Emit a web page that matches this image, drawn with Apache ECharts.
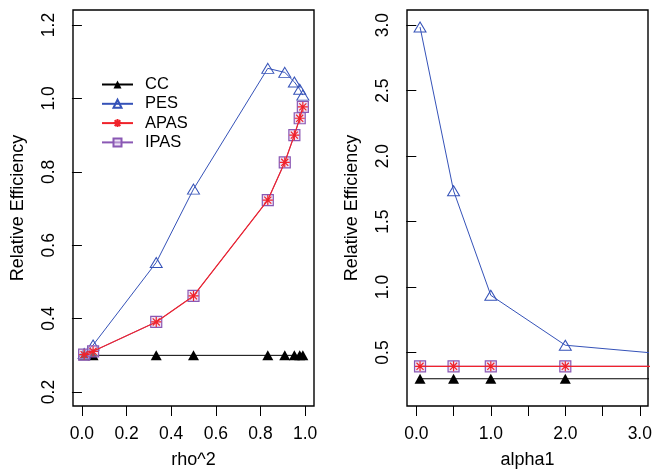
<!DOCTYPE html>
<html><head><meta charset="utf-8">
<script src="https://cdn.jsdelivr.net/npm/echarts@6/dist/echarts.min.js"></script>
<style>html,body{margin:0;padding:0;background:#fff}#c{width:653px;height:469px}</style>
</head><body><div id="c"></div>
<script>
// Left panel
const rho2 = [0.01, 0.05, 0.333, 0.5, 0.833, 0.909, 0.952, 0.976, 0.990];
const ccLeft   = [0.30, 0.30, 0.30, 0.30, 0.30, 0.30, 0.30, 0.30, 0.30];
const pesLeft  = [0.305, 0.328, 0.553, 0.753, 1.082, 1.071, 1.045, 1.025, 1.009];
const apasLeft = [0.302, 0.311, 0.391, 0.462, 0.723, 0.826, 0.900, 0.946, 0.977];
const ipasLeft = [0.302, 0.311, 0.391, 0.462, 0.723, 0.826, 0.900, 0.946, 0.977];
// Right panel
const alpha1 = [0.05, 0.5, 1.0, 2.0, 4.0];
const ccRight   = [0.30, 0.30, 0.30, 0.30, 0.30];
const pesRight  = [2.985, 1.735, 0.937, 0.556, 0.455];
const apasRight = [0.395, 0.395, 0.395, 0.395, 0.395];
const ipasRight = [0.395, 0.395, 0.395, 0.395, 0.395];
// Tick labels
const xTicksLeft = [0, 0.2, 0.4, 0.6, 0.8, 1.0];
const yTicksLeft = [0.2, 0.4, 0.6, 0.8, 1.0, 1.2];
const xTickMarksRight = [0, 0.5, 1.0, 1.5, 2.0, 2.5, 3.0];
const xTickLabelsRight = [0, 1.0, 2.0, 3.0];
const yTicksRight = [0.5, 1.0, 1.5, 2.0, 2.5, 3.0];
const seriesNames = ['CC', 'PES', 'APAS', 'IPAS'];

const FONT = 'Liberation Sans, Arial, Helvetica, sans-serif';
const BLUE = '#3552b8', RED = '#f0232b', PURPLE = '#8a58b4', BLACK = '#000';
const ASTER = 'path://M0,-10L0,10M-10,0L10,0M-7.07,-7.07L7.07,7.07M-7.07,7.07L7.07,-7.07';

function zip(xs, ys) { return xs.map((x, i) => [x, ys[i]]); }

function mkSeries(idx, cc, pes, apas, ipas, xs) {
  return [
    { name: 'CC', type: 'line', xAxisIndex: idx, yAxisIndex: idx, data: zip(xs, cc),
      symbol: 'triangle', symbolSize: [11, 10], clip: true,
      lineStyle: { color: BLACK, width: 1 }, itemStyle: { color: BLACK }, z: 2 },
    { name: 'PES', type: 'line', xAxisIndex: idx, yAxisIndex: idx, data: zip(xs, pes),
      symbol: 'triangle', symbolSize: [12, 10], clip: true,
      lineStyle: { color: BLUE, width: 1 }, itemStyle: { color: 'rgba(255,255,255,0)', borderColor: BLUE, borderWidth: 1 }, z: 3 },
    { name: 'IPAS', type: 'line', xAxisIndex: idx, yAxisIndex: idx, data: zip(xs, ipas),
      symbol: 'rect', symbolSize: 11, clip: true,
      lineStyle: { color: PURPLE, width: 1 }, itemStyle: { color: 'rgba(220,200,235,0.5)', borderColor: PURPLE, borderWidth: 1.2 }, z: 4 },
    { name: 'APAS', type: 'line', xAxisIndex: idx, yAxisIndex: idx, data: zip(xs, apas),
      symbol: ASTER, symbolSize: 10, clip: true,
      lineStyle: { color: RED, width: 1.2 }, itemStyle: { color: 'none', borderColor: RED, borderWidth: 1.2 }, z: 5 }
  ];
}

function xAx(idx, min, max, tickVals, labelVals, name) {
  return { type: 'value', gridIndex: idx, min: min, max: max,
    name: name, nameLocation: 'middle', nameGap: 45,
    nameTextStyle: { fontFamily: FONT, fontSize: 18, color: '#000' },
    axisLine: { show: false }, splitLine: { show: false },
    axisTick: { show: true, inside: false, length: 10, customValues: tickVals, lineStyle: { color: '#000' } },
    axisLabel: { customValues: labelVals, margin: 19, fontFamily: FONT, fontSize: 17.5, color: '#000',
      formatter: v => Number(v).toFixed(1) } };
}
function yAx(idx, min, max, vals) {
  return { type: 'value', gridIndex: idx, min: min, max: max,
    name: 'Relative Efficiency', nameLocation: 'middle', nameGap: 46, nameRotate: 90,
    nameTextStyle: { fontFamily: FONT, fontSize: 18, color: '#000' },
    axisLine: { show: false }, splitLine: { show: false },
    axisTick: { show: true, inside: false, length: 10, customValues: vals, lineStyle: { color: '#000' } },
    axisLabel: { customValues: vals, rotate: 90, margin: 15, fontFamily: FONT, fontSize: 17.5, color: '#000',
      formatter: v => Number(v).toFixed(1) } };
}

const chart = echarts.init(document.getElementById('c'), null, { renderer: 'canvas' });
chart.setOption({
  animation: false,
  backgroundColor: '#fff',
  grid: [
    { left: 73, top: 10, width: 241, height: 396, show: true, borderColor: '#000', borderWidth: 1.4, backgroundColor: 'transparent', containLabel: false, outerBoundsMode: 'none' },
    { left: 407, top: 10, width: 241, height: 396, show: true, borderColor: '#000', borderWidth: 1.4, backgroundColor: 'transparent', containLabel: false, outerBoundsMode: 'none' }
  ],
  legend: {
    data: seriesNames, orient: 'vertical', left: 96, top: 71,
    itemWidth: 31, itemHeight: 10, itemGap: 2.3,
    textStyle: { fontFamily: FONT, fontSize: 16.5, color: '#000', padding: [0, 0, 0, 7] }
  },
  xAxis: [
    xAx(0, -0.04, 1.04, xTicksLeft, xTicksLeft, 'rho^2'),
    xAx(1, -0.125, 3.11, xTickMarksRight, xTickLabelsRight, 'alpha1')
  ],
  yAxis: [
    yAx(0, 0.162, 1.241, yTicksLeft),
    yAx(1, 0.092, 3.115, yTicksRight)
  ],
  series: [].concat(
    mkSeries(0, ccLeft, pesLeft, apasLeft, ipasLeft, rho2),
    mkSeries(1, ccRight, pesRight, apasRight, ipasRight, alpha1)
  )
});
</script></body></html>
